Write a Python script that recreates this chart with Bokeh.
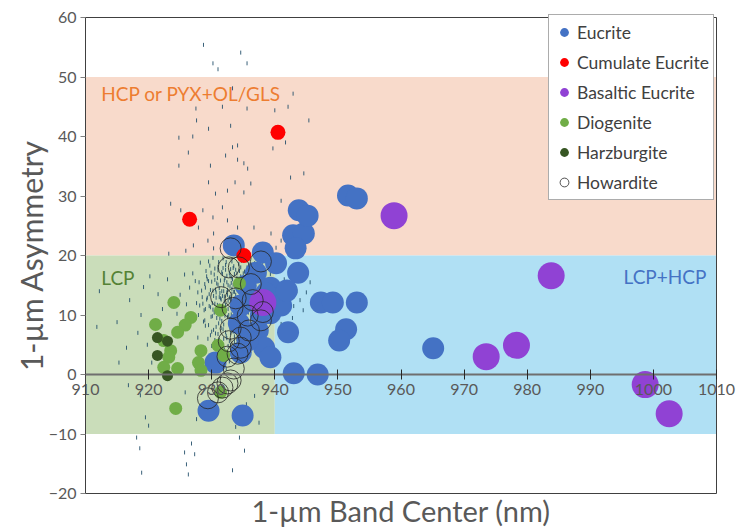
import numpy as np
from bokeh.plotting import figure
from bokeh.models import Range1d, LinearAxis, FixedTicker, Legend, LegendItem
from bokeh.core.properties import value
from bokeh.embed import file_html
from bokeh.resources import INLINE

FONT = "Lato"
GRAY = "#595959"

# ---------------- data ----------------
x_ticks = [910, 920, 930, 940, 950, 960, 970, 980, 990, 1000, 1010]
y_ticks = [-20, -10, 0, 10, 20, 30, 40, 50, 60]

# background composition fields
region_names = ["HCP or PYX+OL/GLS", "LCP", "LCP+HCP"]
region_left = [910, 910, 940]
region_right = [1010, 940, 1010]
region_bottom = [20, -10, -10]
region_top = [50, 20, 20]
region_label_x = [912.5, 912.5, 1008.4]
region_label_y = [47.2, 16.3, 16.5]

eucrite_x = [933.5, 938.1, 940.2, 942.9, 944.6, 943.8, 945.2, 943.3, 943.7, 951.6,
             953.0, 947.3, 949.2, 953.0, 951.3, 950.2, 942.1, 943.0, 946.8, 965.1,
             929.5, 934.9, 939.3, 938.6, 939.3, 937.3, 938.3, 934.6, 930.6, 939.3,
             935.7, 934.3, 936.2, 941.0, 937.0, 935.4, 941.9, 937.8, 934.6]
eucrite_y = [21.7, 20.5, 18.7, 23.4, 23.7, 27.6, 26.7, 21.2, 17.1, 30.1,
             29.6, 12.1, 12.1, 12.1, 7.6, 5.7, 7.1, 0.2, 0.0, 4.4,
             -6.1, -6.9, 14.6, 13.6, 10.3, 7.4, 4.5, 3.7, 2.0, 2.9,
             5.7, 8.6, 12.4, 11.6, 17.1, 14.9, 14.1, 10.0, 11.6]

cumulate_x = [940.5, 926.5, 935.1]
cumulate_y = [40.7, 26.1, 20.0]

basaltic_x = [958.9, 983.8, 973.5, 978.3, 998.7, 1002.5, 938.1]
basaltic_y = [26.7, 16.6, 3.0, 4.9, -1.7, -6.6, 12.1]

diogenite_x = [924.0, 926.7, 925.8, 921.1, 924.6, 922.4, 923.5, 923.2, 922.4, 924.6,
               928.3, 927.9, 928.3, 931.4, 934.4, 931.0, 931.9, 931.4, 924.3]
diogenite_y = [12.1, 9.6, 8.3, 8.4, 7.1, 5.7, 4.0, 2.9, 1.2, 1.0,
               4.0, 2.0, 0.7, 10.8, 15.3, 4.9, 3.2, -3.0, -5.7]

harzburgite_x = [921.4, 923.0, 921.4, 923.0]
harzburgite_y = [6.2, 5.6, 3.2, -0.2]

howardite_x = [933.0, 937.8, 932.7, 934.3, 936.2, 933.8, 933.3, 938.1, 935.7, 937.8,
               935.9, 933.0, 934.6, 932.7, 934.6, 934.1, 932.5, 933.5, 933.0, 932.5,
               931.7, 931.0, 929.4, 936.5, 931.5]
howardite_y = [21.2, 19.0, 18.0, 18.0, 15.2, 12.8, 11.2, 10.5, 9.9, 9.1,
               7.4, 7.7, 6.2, 5.6, 4.5, 3.5, 3.0, 1.0, -1.0, -1.5,
               -2.2, -3.0, -4.0, 12.5, 13.0]

# individual spectra (tiny marks)
spectra_x = [928.7, 930.2, 931.0, 934.6, 935.6,
             918.1, 918.6, 918.9, 926.8, 925.7, 927.3, 926.0, 926.3, 934.4, 935.2, 933.3,
             933.3, 942.9, 927.5, 931.7, 935.6, 940.0, 942.1, 945.4, 927.6, 929.5,
             924.8, 927.0, 933.0, 940.2, 941.7, 933.3, 934.1, 939.7, 926.3, 932.2,
             934.1, 935.1, 924.8, 929.8, 935.7, 942.5, 944.6, 929.5, 933.7, 936.2,
             932.5, 935.1, 930.6, 941.0, 923.5, 928.6, 931.7, 930.2, 932.5, 927.9,
             934.1, 936.7, 930.3, 925.1, 939.4, 927.1, 929.4, 941.0, 923.2, 925.9,
             930.3, 940.2,
             929.2, 929.8, 930.1, 930.5, 930.8, 931.0, 931.2, 931.4, 931.5, 931.7,
             931.9, 932.0, 932.1, 932.2, 932.3, 932.4, 932.5, 932.6, 932.7, 932.8,
             932.9, 933.0, 933.1, 933.2, 933.3, 933.4, 933.5, 933.6, 933.7, 933.8,
             933.9, 934.0, 934.1, 934.2, 934.3, 934.4, 934.5, 934.6, 934.7, 934.8,
             934.9, 935.0, 935.1, 935.2, 935.3, 935.4, 935.5, 935.6, 935.7, 935.8,
             935.9, 936.0, 936.2, 936.4, 936.6, 936.8, 937.0, 937.3, 937.6, 938.0,
             938.5, 939.0, 928.5, 928.8, 929.0, 929.4, 929.6, 930.0, 930.3, 930.6,
             930.9, 931.3, 931.6, 932.0, 932.4, 933.0, 933.2, 928.0, 927.6, 927.2,
             927.0, 926.5, 926.0, 925.7, 925.0, 924.5, 927.8, 928.2, 929.5, 930.2,
             931.1, 931.8, 936.7, 937.2, 937.5, 938.2, 938.8, 939.3, 939.6,
             931.2, 931.5, 931.8, 932.1, 932.4, 932.7, 932.9, 933.1, 933.3, 933.5,
             933.7, 933.9, 934.1, 934.3, 934.5, 934.7, 934.9, 935.1, 935.3, 935.5,
             930.4, 930.7, 930.9, 931.1, 930.0, 929.9, 931.9, 932.6, 933.6, 934.2,
             932.2, 933.4, 934.6, 935.8, 936.1, 929.3, 928.9, 930.5, 931.4, 932.8,
             941.5, 942.0, 942.5, 943.0, 943.5, 944.0, 944.5, 945.0, 945.6, 942.8,
             941.8, 944.2, 941.0, 940.8,
             915.0, 916.5, 917.0, 918.3, 918.8, 919.2, 919.8, 920.2, 920.5, 921.5,
             922.2, 923.0, 916.8, 918.7, 919.5, 920.0, 925.8, 927.6, 933.8, 935.5,
             936.8, 937.5, 915.3, 911.8, 912.2,
             929.1, 929.7, 930.4, 931.0, 931.6, 932.3, 932.9, 933.5, 934.0, 934.7, 935.3, 935.9,
             929.0, 929.5, 930.2, 930.8, 931.3, 931.9, 932.5, 933.1, 933.6, 934.2, 934.8, 935.4, 936.0,
             928.6, 929.2, 929.8, 930.3, 930.9, 931.4, 932.0, 932.6, 933.2, 933.8, 934.4, 935.0, 935.6,
             928.9, 929.5, 930.1, 930.7, 931.3, 931.9, 932.5, 933.1, 933.7, 934.3, 934.9, 935.5,
             929.8, 930.4, 931.0, 931.6, 932.2, 932.8, 933.4, 934.0, 934.6, 935.2,
             931.7, 932.3, 932.9, 933.2, 933.9, 931.0, 930.5, 932.0, 933.0, 934.0,
             929.3, 929.6, 929.9, 930.2, 930.5, 930.7, 931.0, 931.2, 931.4, 931.6,
             931.8, 932.0, 932.2, 932.4, 932.6, 932.8, 933.0, 933.2, 933.4, 933.6,
             933.8, 934.0, 934.2, 934.4, 934.6, 934.8, 935.0, 935.2, 935.4, 935.6,
             930.0, 930.6, 931.2, 931.8, 932.4, 933.0, 933.6, 934.2, 934.8, 930.3,
             931.0, 931.7, 932.3, 929.0, 928.7, 928.4, 928.1, 927.8, 927.4, 927.9]
spectra_y = [55.4, 52.3, 51.3, 54.1, 52.3,
             -10.6, -12.4, -16.5, -11.6, -13.1, -13.4, -15.1, -16.8, -10.6, -12.8, -16.1,
             48.1, 47.2, 44.7, 45.0, 44.7, 44.4, 45.0, 42.7, 42.7, 41.3,
             39.8, 40.0, 41.8, 41.5, 39.0, 38.2, 38.5, 38.0, 37.3, 36.8,
             36.1, 35.5, 35.1, 35.1, 34.6, 33.1, 33.8, 32.3, 32.3, 32.1,
             30.9, 30.6, 30.4, 29.2, 28.7, 27.6, 28.1, 26.4, 25.9, 24.7,
             24.7, 24.7, 23.7, 27.6, 23.7, 21.7, 22.5, 22.5, 20.3, 20.8,
             21.2, 21.3,
             16.5, 14.2, 12.0, 17.8, 9.5, 15.1, 13.0, 11.2, 7.8, 16.9,
             14.0, 12.3, 9.9, 18.4, 6.5, 15.5, 13.4, 11.0, 8.7, 17.1,
             14.8, 12.6, 10.1, 19.0, 16.0, 7.2, 13.9, 11.7, 9.3, 17.6,
             15.2, 5.9, 12.9, 10.6, 18.6, 14.4, 8.1, 16.5, 12.1, 9.7,
             19.3, 14.0, 6.8, 17.3, 11.3, 15.6, 8.9, 18.0, 13.1, 10.4,
             16.2, 19.5, 12.0, 17.0, 14.7, 18.7, 16.1, 19.4, 17.5, 18.6,
             19.2, 18.4, 13.0, 10.8, 8.2, 6.0, 11.5, 4.8, 7.5, 14.3,
             3.5, 5.4, 9.0, 4.2, 2.8, 5.0, 3.0, 15.5, 12.0, 9.4,
             17.0, 14.6, 11.8, 16.8, 13.4, 10.2, 6.2, 18.8, 19.0, 19.6,
             18.9, 19.5, 11.2, 13.5, 8.5, 15.8, 12.8, 16.9, 19.0,
             14.5, 12.6, 10.5, 16.2, 13.8, 10.0, 7.8, 15.4, 12.2, 9.6,
             14.7, 11.0, 8.8, 16.1, 13.3, 10.9, 15.0, 12.6, 9.0, 14.3,
             10.4, 12.9, 16.2, 8.6, 15.6, 9.7, 6.0, 4.8, 6.4, 4.6,
             17.6, 17.9, 18.0, 15.0, 17.8, 12.9, 15.2, 5.8, 3.4, 2.2,
             16.0, 13.2, 15.0, 11.5, 14.0, 12.5, 10.8, 13.8, 15.5, 9.5,
             11.0, 16.3, 8.5, 13.8,
             8.8, 4.5, 12.5, 7.0, 10.0, 14.7, 5.0, 16.5, 2.0, 13.5,
             11.0, 16.0, -1.8, -3.5, -7.2, -8.6, -3.0, -7.5, -8.8, -5.0,
             -3.6, -8.1, 2.0, 8.0, 14.0,
             17.4, 18.3, 16.8, 18.1, 17.2, 18.9, 16.6, 18.2, 17.0, 19.1, 16.4, 18.5,
             14.6, 15.7, 14.1, 15.3, 13.7, 15.0, 14.2, 16.3, 13.9, 15.6, 14.1, 15.2, 13.6,
             11.9, 12.6, 11.3, 13.2, 11.7, 12.8, 11.0, 12.4, 11.4, 12.7, 11.2, 12.3, 10.8,
             9.1, 8.3, 9.8, 8.0, 9.4, 8.4, 9.7, 8.2, 9.9, 8.5, 10.2, 7.7,
             6.6, 5.1, 6.8, 4.9, 7.1, 5.6, 4.1, 6.9, 5.3, 3.8,
             13.2, 10.7, 13.0, 14.4, 10.3, 10.1, 11.9, 15.8, 9.0, 14.8,
             16.0, 13.5, 17.1, 10.9, 15.9, 13.8, 17.5, 11.6, 15.8, 14.0,
             17.9, 13.1, 11.7, 16.6, 15.0, 12.9, 17.7, 13.6, 15.1, 16.9,
             13.4, 16.2, 12.3, 17.4, 14.9, 12.8, 17.0, 14.6, 11.9, 16.8,
             7.2, 6.9, 5.9, 7.6, 6.1, 7.0, 5.5, 7.3, 6.0, 3.1,
             2.4, 1.8, 0.9, 11.0, 8.9, 14.1, 11.6, 13.8, 15.7, 10.0]

# ---------------- layout (pixels) ----------------
W, H = 745, 527
PLOT_L, PLOT_R, PLOT_T, PLOT_B = 85, 716, 17, 493   # where the 910..1010 / -20..60 box sits
XMIN, XMAX = x_ticks[0], x_ticks[-1]
YMIN, YMAX = y_ticks[0], y_ticks[-1]
sx = (PLOT_R - PLOT_L) / (XMAX - XMIN)
sy = (PLOT_B - PLOT_T) / (YMAX - YMIN)


def px_x(px):
    return XMIN + (px - PLOT_L) / sx


def px_y(py):
    return YMAX - (py - PLOT_T) / sy


p = figure(width=W, height=H,
           x_range=Range1d(px_x(0), px_x(W)), y_range=Range1d(px_y(H), px_y(0)),
           output_backend="svg", toolbar_location=None,
           x_axis_location=None, y_axis_location=None,
           min_border=0)
p.grid.visible = False
p.outline_line_color = None
p.background_fill_color = "white"
p.border_fill_color = "white"

region_colors = ["#F8DACB", "#CADDBA", "#B0E0F4"]
p.quad(left=region_left, right=region_right, bottom=region_bottom, top=region_top,
       fill_color=region_colors, line_color=None)

p.text(x=region_label_x[:2], y=region_label_y[:2], text=region_names[:2],
       text_color=["#ED7D31", "#548235"], text_font=value(FONT),
       text_font_size="19px", text_baseline="middle", text_align="left")
p.text(x=region_label_x[2:], y=region_label_y[2:], text=region_names[2:],
       text_color="#4472C4", text_font=value(FONT),
       text_font_size="19px", text_baseline="middle", text_align="right")

# x axis crossing at y = 0
xa = LinearAxis(fixed_location=0, bounds=(XMIN, XMAX),
                ticker=FixedTicker(ticks=x_ticks),
                major_tick_in=5, major_tick_out=5,
                minor_tick_line_color=None,
                axis_line_color="#6f6f6f", axis_line_width=2,
                major_tick_line_color="#262626",
                major_label_text_font=FONT, major_label_text_font_size="16px",
                major_label_text_color=GRAY, major_label_standoff=4)
p.add_layout(xa, "below")

# y axis at x = 910
ya = LinearAxis(fixed_location=XMIN, bounds=(YMIN, YMAX),
                ticker=FixedTicker(ticks=y_ticks),
                major_tick_in=0, major_tick_out=5,
                minor_tick_line_color=None,
                axis_line_color="#404040",
                major_tick_line_color="#808080",
                major_label_text_font=FONT, major_label_text_font_size="16px",
                major_label_text_color=GRAY, major_label_standoff=4)
p.add_layout(ya, "left")

p.scatter(spectra_x, spectra_y, marker="dash", angle=np.pi / 2, size=4,
          line_color="#24506c", line_alpha=0.9, line_width=1)

r_euc = p.scatter(eucrite_x, eucrite_y, size=22, fill_color="#4472C4", line_color=None)
r_cum = p.scatter(cumulate_x, cumulate_y, size=15, fill_color="#FF0000", line_color=None)
r_bas = p.scatter(basaltic_x, basaltic_y, size=27, fill_color="#9042D4", line_color=None)
r_dio = p.scatter(diogenite_x, diogenite_y, size=13, fill_color="#70AD47", line_color=None)
r_har = p.scatter(harzburgite_x, harzburgite_y, size=11, fill_color="#375623", line_color=None)
r_how = p.scatter(howardite_x, howardite_y, size=21, fill_color="white", fill_alpha=0,
                  line_color="#262626", line_width=0.8)

# plot-area frame
p.quad(left=[XMIN], right=[XMAX], bottom=[YMIN], top=[YMAX],
       fill_color=None, line_color="#404040", line_width=1)

# axis titles
p.text(x=[(XMIN + XMAX) / 2], y=[px_y(510)], text=["1-µm Band Center (nm)"],
       text_font=value(FONT), text_font_size="29px", text_color=GRAY,
       text_align="center", text_baseline="middle")
p.text(x=[px_x(30)], y=[(YMIN + YMAX) / 2], text=["1-µm Asymmetry"], angle=np.pi / 2,
       text_font=value(FONT), text_font_size="30px", text_color=GRAY,
       text_align="center", text_baseline="middle")

legend = Legend(items=[
    LegendItem(label="Eucrite", renderers=[r_euc]),
    LegendItem(label="Cumulate Eucrite", renderers=[r_cum]),
    LegendItem(label="Basaltic Eucrite", renderers=[r_bas]),
    LegendItem(label="Diogenite", renderers=[r_dio]),
    LegendItem(label="Harzburgite", renderers=[r_har]),
    LegendItem(label="Howardite", renderers=[r_how]),
], location=(548, H - 200))
legend.label_text_font = FONT
legend.label_text_font_size = "17.5px"
legend.label_text_color = "#404040"
legend.border_line_color = "#595959"
legend.background_fill_color = "white"
legend.background_fill_alpha = 1
legend.margin = 0
legend.padding = 4
legend.spacing = 4
legend.glyph_width = 22
legend.glyph_height = 26
legend.label_height = 26
legend.label_standoff = 2
p.add_layout(legend)

open("out.html", "w").write(file_html(p, INLINE))
